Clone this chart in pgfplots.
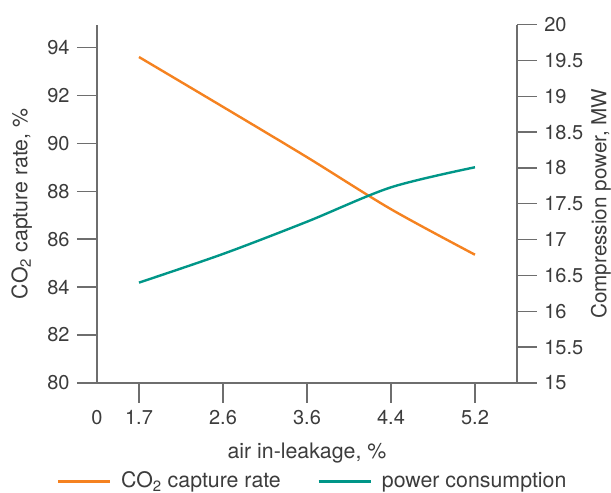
\documentclass[border=0pt]{standalone}
\usepackage{pgfplots}
\pgfplotsset{compat=1.18}
\usepackage{fontspec}
\setmainfont{TeX Gyre Heros}
\definecolor{corange}{RGB}{245,130,32}
\definecolor{cteal}{RGB}{0,150,136}
\definecolor{axgray}{RGB}{110,110,110}
\definecolor{txtgray}{RGB}{60,60,60}
\begin{document}
\fontsize{16}{19}\selectfont
\begin{tikzpicture}
\useasboundingbox (-72.75pt,-82.5pt) rectangle (385.5pt,287.2pt);
\pgfplotsset{
  myax/.style={
    scale only axis, width=315pt, height=268.7pt,
    at={(0,0)}, anchor=south west,
    xmin=0.5, xmax=5.5,
    tick align=outside,
    major tick length=15pt,
    axis line style={draw=axgray, line width=1pt},
    every tick/.style={draw=axgray, line width=1pt},
    tick label style={text=txtgray, font=\fontsize{15}{18}\selectfont},
    label style={text=txtgray},
    /pgf/number format/assume math mode=true,
  }
}
\begin{axis}[myax,
  axis x line*=bottom, axis y line*=left,
  ymin=80, ymax=94.95,
  ytick={80,82,...,94},
  xtick={1,2,3,4,5},
  xticklabels={1.7,2.6,3.6,4.4,5.2},
  extra x ticks={0.5}, extra x tick labels={0},
  extra x tick style={major tick style={draw=none}},
  ylabel={CO\textsubscript{2} capture rate, \%},
  ylabel style={at={(axis description cs:-0.179,0.5)}, anchor=center},
  xlabel={air in-leakage, \%},
  xlabel style={at={(axis description cs:0.5,0)}, yshift=-52.5pt, anchor=center},
  legend columns=2,
  legend style={at={(axis description cs:0.514,-0.275)}, anchor=center, draw=none, fill=none,
    text=txtgray, /tikz/every even column/.append style={column sep=25.5pt}},
  legend image code/.code={\draw[#1] (0pt,0pt) -- (39pt,0pt); \path (44.5pt,0pt);},
]
\addplot[corange, line width=1.8pt, smooth] coordinates {
  (1,93.6) (2,91.52) (3,89.42) (4,87.25) (5,85.35)
};
\addlegendentry{CO\textsubscript{2} capture rate}
\addlegendimage{cteal, line width=1.8pt}
\addlegendentry{power consumption}
\end{axis}
\begin{axis}[myax,
  axis x line=none, axis y line*=right,
  ymin=15, ymax=20,
  ytick={15,15.5,...,20},
  ylabel={Compression power, MW},
  ylabel style={at={(axis description cs:1.2,0.5)}, anchor=center, rotate=0,
    font=\fontsize{15.5}{18}\selectfont},
]
\addplot[cteal, line width=1.8pt, smooth] coordinates {
  (1,16.40) (2,16.80) (3,17.25) (4,17.73) (5,18.01)
};
\end{axis}
\end{tikzpicture}
\end{document}
